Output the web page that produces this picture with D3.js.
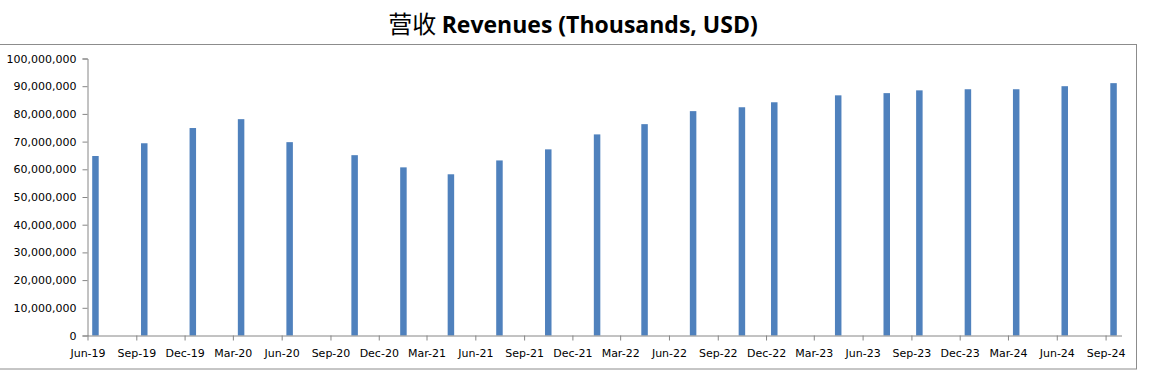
<!DOCTYPE html>
<html>
<head>
<meta charset="utf-8">
<script src="https://cdn.jsdelivr.net/npm/d3@7"></script>
<style>
  body { margin: 0; background: #fff; }
  svg { display: block; }
</style>
</head>
<body>
<div id="chart"></div>
<script>
// Reporting months (one bar per month) and revenues in thousands of USD
const months = ["2019-06", "2019-09", "2019-12", "2020-03", "2020-06", "2020-10",
                "2021-01", "2021-04", "2021-07", "2021-10", "2022-01", "2022-04",
                "2022-07", "2022-10", "2022-12", "2023-04", "2023-07", "2023-09",
                "2023-12", "2024-03", "2024-06", "2024-09"];
const revenues = [64800000, 69400000, 74900000, 78100000, 69800000, 65100000,
                  60700000, 58200000, 63200000, 67200000, 72600000, 76300000,
                  81000000, 82400000, 84200000, 86700000, 87500000, 88500000,
                  88900000, 88900000, 90000000, 91100000];
const yTicks = [0, 10000000, 20000000, 30000000, 40000000, 50000000,
                60000000, 70000000, 80000000, 90000000, 100000000];
// x tick labels, one every three months
const xTickLabels = ["Jun-19", "Sep-19", "Dec-19", "Mar-20", "Jun-20", "Sep-20",
                     "Dec-20", "Mar-21", "Jun-21", "Sep-21", "Dec-21", "Mar-22",
                     "Jun-22", "Sep-22", "Dec-22", "Mar-23", "Jun-23", "Sep-23",
                     "Dec-23", "Mar-24", "Jun-24", "Sep-24"];

const parseMonth = d3.timeParse("%Y-%m");
const parseLabel = d3.timeParse("%b-%y");
const data = months.map((m, i) => ({ date: parseMonth(m), value: revenues[i] }));
const xTicks = xTickLabels.map(parseLabel);

const W = 1151, H = 375;
const svg = d3.select("#chart").append("svg")
              .attr("width", W)
              .attr("height", H);

// chart frame
svg.append("rect")
   .attr("x", -1)
   .attr("y", 44.5)
   .attr("width", 1137.5)
   .attr("height", 324.5)
   .attr("fill", "none")
   .attr("stroke", "#8c8c8c");

// title
const title = svg.append("text")
                 .attr("x", 573)
                 .attr("y", 33)
                 .attr("text-anchor", "middle")
                 .attr("fill", "#000");
title.append("tspan")
     .style("font-family", "'Noto Sans CJK SC'")
     .style("font-size", "24px")
     .style("font-weight", "400")
     .text("营收 ");
title.append("tspan")
     .style("font-family", "'Open Sans', sans-serif")
     .style("font-size", "23px")
     .style("font-weight", "bold")
     .text("Revenues (Thousands, USD)");

// scales: month-based date axis, each bar centred in its month slot
const x = d3.scaleTime()
            .domain([new Date(2019, 5, 1), new Date(2024, 9, 1)])
            .range([87.5, 1121.5]);

const y = d3.scaleLinear()
            .domain([0, 100000000])
            .range([335.5, 58.5]);

const barWidth = 6.5;

svg.selectAll("rect.bar")
   .data(data)
   .enter()
   .append("rect")
   .attr("class", "bar")
   .attr("x", d => (x(d.date) + x(d3.timeMonth.offset(d.date, 1))) / 2 - barWidth / 2)
   .attr("y", d => y(d.value))
   .attr("width", barWidth)
   .attr("height", d => y(0) - y(d.value))
   .attr("fill", "#4f81bd");

// y axis
const yAxis = svg.append("g")
                 .attr("transform", "translate(87.5,0)")
                 .call(d3.axisLeft(y)
                         .tickValues(yTicks)
                         .tickSize(5)
                         .tickPadding(6)
                         .tickFormat(d3.format(",")));

// x axis
const xAxis = svg.append("g")
                 .attr("transform", "translate(0,335.5)")
                 .call(d3.axisBottom(x)
                         .tickValues(xTicks)
                         .tickSize(5)
                         .tickPadding(9)
                         .tickSizeOuter(0)
                         .tickFormat(d3.timeFormat("%b-%y")));

[xAxis, yAxis].forEach(g => {
    g.select(".domain").attr("stroke", "#868686");
    g.selectAll(".tick line").attr("stroke", "#868686");
    g.selectAll(".tick text")
     .attr("fill", "#000")
     .style("font-family", "'DejaVu Sans', Verdana, sans-serif")
     .style("font-size", "11px");
});
</script>
</body>
</html>
